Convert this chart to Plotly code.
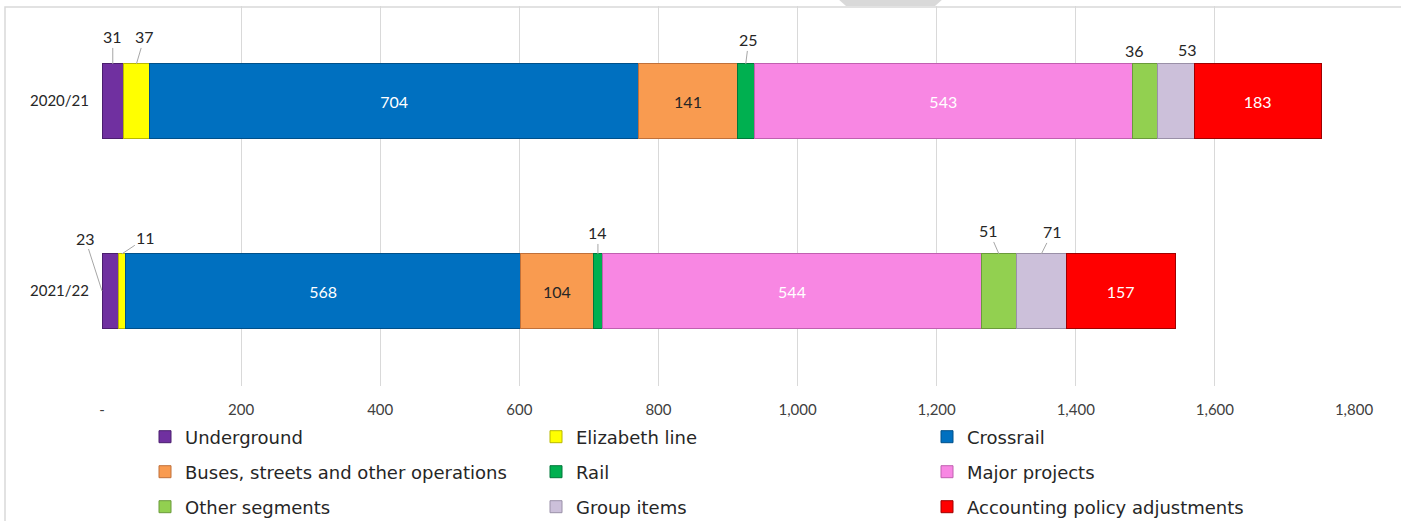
import plotly.graph_objects as go

# ---------------- data ----------------
years = ["2020/21", "2021/22"]
series_names = ["Underground", "Elizabeth line", "Crossrail",
                "Buses, streets and other operations", "Rail", "Major projects",
                "Other segments", "Group items", "Accounting policy adjustments"]
underground = [31, 23]
elizabeth_line = [37, 11]
crossrail = [704, 568]
buses = [141, 104]
rail = [25, 14]
major_projects = [543, 544]
other_segments = [36, 51]
group_items = [53, 71]
accounting = [183, 157]
x_tick_values = [0, 200, 400, 600, 800, 1000, 1200, 1400, 1600, 1800]
x_tick_labels = ["-", "200", "400", "600", "800", "1,000", "1,200", "1,400", "1,600", "1,800"]

series_values = [underground, elizabeth_line, crossrail, buses, rail,
                 major_projects, other_segments, group_items, accounting]

# ---------------- style ----------------
colors = ["#7030A0", "#FFFF00", "#0070C0", "#F99B50", "#00B050",
          "#F887E3", "#92D050", "#CCC0DA", "#FF0000"]
line_colors = ["#4B1E6E", "#B8B800", "#00508A", "#C0703A", "#00783A",
               "#C060B0", "#6A9A3A", "#9A90A8", "#A00000"]
inside_text_colors = ["white", "black", "white", "#262626", "white",
                      "white", "black", "black", "white"]
FONT = "Lato"
LEGEND_FONT = "DejaVu Sans"
BAR_W = 0.39
INSIDE_MIN = 100

# pixel offsets for outside labels: (series index, year index) -> offsets
outside_label_style = {
    (0, 0): dict(ax=0, ay=-27, arrow=True),
    (1, 0): dict(ax=8, ay=-27, arrow=True),
    (4, 0): dict(ax=3, ay=-24, arrow=True),
    (6, 0): dict(ax=-10, ay=-13, arrow=False),
    (7, 0): dict(ax=12, ay=-14, arrow=False),
    (0, 1): dict(ax=-17, ay=-53, arrow=True, left_edge=True),
    (1, 1): dict(ax=24, ay=-16, arrow=True),
    (4, 1): dict(ax=0, ay=-21, arrow=True),
    (6, 1): dict(ax=-10, ay=-23, arrow=True),
    (7, 1): dict(ax=11, ay=-22, arrow=True),
}

legend_ids = ["legend", "legend2", "legend3"]

fig = go.Figure()
for i, (name, vals) in enumerate(zip(series_names, series_values)):
    texts = [str(v) if v >= INSIDE_MIN else "" for v in vals]
    fig.add_trace(go.Bar(
        name=name, y=years, x=vals, orientation="h", width=BAR_W,
        marker=dict(color=colors[i], line=dict(color=line_colors[i], width=1)),
        text=texts, textposition="inside", insidetextanchor="middle",
        textfont=dict(family=FONT, size=16, color=inside_text_colors[i]),
        textangle=0, hoverinfo="x+name", legend=legend_ids[i // 3],
    ))

# outside labels computed from cumulative sums
annotations = []
for (si, yi), st in outside_label_style.items():
    v = series_values[si][yi]
    start = sum(series_values[k][yi] for k in range(si))
    xc = start + v / 2
    ytop = yi - BAR_W / 2
    if st.get("left_edge"):
        ax_x, ax_y = 0, yi
    else:
        ax_x, ax_y = xc, ytop
    if st["arrow"]:
        annotations.append(dict(
            x=ax_x, y=ax_y, xref="x", yref="y", text=str(v),
            showarrow=True, arrowhead=0, arrowwidth=1, arrowcolor="#A6A6A6",
            ax=st["ax"], ay=st["ay"],
            font=dict(family=FONT, size=16, color="#262626")))
    else:
        annotations.append(dict(
            x=ax_x, y=ax_y, xref="x", yref="y", text=str(v),
            showarrow=False, xshift=st["ax"], yshift=-st["ay"],
            font=dict(family=FONT, size=16, color="#262626")))

W, H = 1401, 521
L, R, T, B = 102, 47, 6, 135
pw, ph = W - L - R, H - T - B


def px2paper(px, py):
    return (px - L) / pw, (H - B - py) / ph


# frame and top tab decoration
fx0, fy0 = px2paper(5, 7)
fx1, fy1 = px2paper(1420, 540)
shapes = [dict(type="rect", xref="paper", yref="paper", x0=fx0, y0=fy1, x1=fx1, y1=fy0,
               line=dict(color="#D9D9D9", width=1.5), layer="below")]
pts = [px2paper(837, -2), px2paper(944, -2), px2paper(935, 6), px2paper(846, 6)]
path = "M " + " L ".join(f"{a},{b}" for a, b in pts) + " Z"
shapes.append(dict(type="path", xref="paper", yref="paper", path=path,
                   fillcolor="#D9D9D9", line=dict(width=0)))

legend_rows_px = [437, 472, 507]
legend_x = px2paper(145, 0)[0]
legend_layout = {}
for lid, row_px in zip(legend_ids, legend_rows_px):
    legend_layout[lid] = dict(
        orientation="h", x=legend_x, y=px2paper(0, row_px)[1],
        xanchor="left", yanchor="middle",
        entrywidth=346, entrywidthmode="pixels", traceorder="normal",
        font=dict(family=LEGEND_FONT, size=18, color="#262626"),
        bgcolor="rgba(0,0,0,0)")

fig.update_layout(
    width=W, height=H, barmode="stack",
    margin=dict(l=L, r=R, t=T, b=B, pad=0, autoexpand=False),
    paper_bgcolor="white", plot_bgcolor="white",
    font=dict(family=FONT, size=15, color="#262626"),
    xaxis=dict(range=[0, 1800], tickvals=x_tick_values, ticktext=x_tick_labels,
               showgrid=True, gridcolor="#D9D9D9", gridwidth=1, zeroline=False,
               showline=False, ticks="", automargin=False, ticklabelstandoff=13,
               tickfont=dict(size=15, color="#404040")),
    yaxis=dict(autorange="reversed", showgrid=False, zeroline=False, showline=False,
               ticks="", automargin=False, ticklabelstandoff=12,
               tickfont=dict(size=15, color="#262626")),
    annotations=annotations, shapes=shapes, showlegend=True,
    **legend_layout,
)

fig.write_html("out.html", config={"displayModeBar": False},
               post_script="document.body.style.margin='0';document.body.style.overflow='hidden';")
